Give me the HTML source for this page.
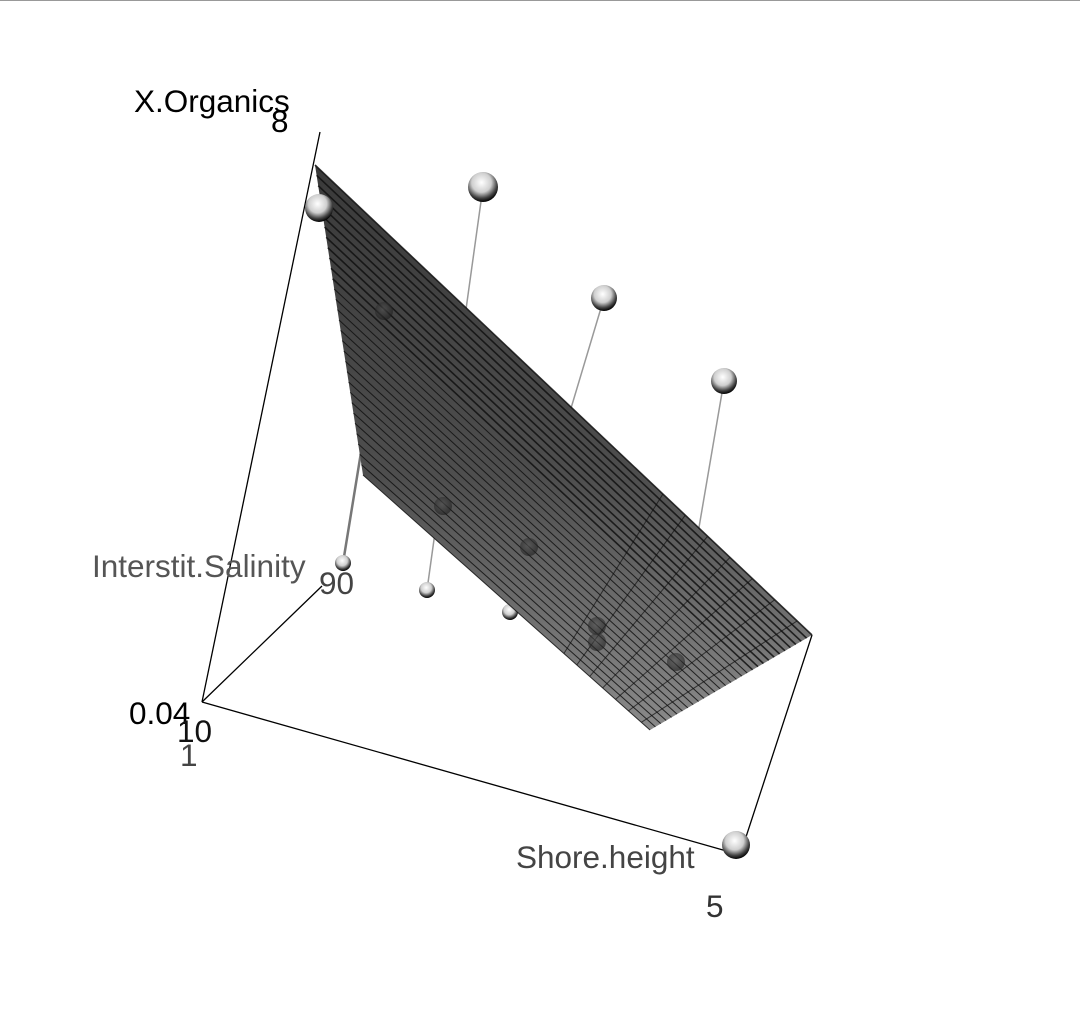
<!DOCTYPE html>
<html><head><meta charset="utf-8"><style>
html,body{margin:0;padding:0;background:#fff;}
svg{display:block;font-family:"Liberation Sans",sans-serif;}
</style></head><body>
<svg id="c" width="1080" height="1025" viewBox="0 0 1080 1025">
<defs>
<radialGradient id="sw" cx="0.45" cy="0.35" r="0.65">
<stop offset="0" stop-color="#ffffff"/><stop offset="0.5" stop-color="#cfcfcf"/><stop offset="0.8" stop-color="#444"/><stop offset="1" stop-color="#000"/></radialGradient>
<radialGradient id="sd" cx="0.45" cy="0.4" r="0.6">
<stop offset="0" stop-color="#555"/><stop offset="1" stop-color="#1a1a1a"/></radialGradient>
<linearGradient id="pg" x1="0" y1="0" x2="0" y2="1" gradientUnits="objectBoundingBox">
<stop offset="0" stop-color="#3a3a3a"/><stop offset="0.55" stop-color="#4e4e4e"/><stop offset="1" stop-color="#8a8a8a"/></linearGradient>
</defs>
<line x1="0" y1="0.5" x2="1080" y2="0.5" stroke="#999"/>
<g stroke="#000" stroke-width="1.3" fill="none">
<line x1="320" y1="132" x2="202" y2="702"/>
<line x1="202" y1="702" x2="322" y2="586"/>
<line x1="202" y1="702" x2="730" y2="852"/>
<line x1="812" y1="635" x2="745" y2="840"/>
</g>
<g id="below"></g>
<g id="plane"></g>
<g id="above"></g>
<g font-size="31.5">
<text x="134" y="112" fill="#000">X.Organics</text>
<text x="271" y="132" fill="#000">8</text>
<text x="92" y="577" fill="#555">Interstit.Salinity</text>
<text x="319" y="594" fill="#444">90</text>
<text x="129" y="724" fill="#000">0.04</text>
<text x="177" y="742" fill="#111">10</text>
<text x="180" y="766" fill="#444">1</text>
<text x="516" y="868" fill="#444">Shore.height</text>
<text x="706" y="917" fill="#333">5</text>
</g>
</svg>
<script>
// screen-projected point data (from rgl view)
const aboveX=[319,483,604,724,736];
const aboveY=[208,187,298,381,845];
const aboveR=[14,15,13,13,14];
const stemEndX=[319,427,510,676,736];
const stemEndY=[208,590,612,662,845];
const belowX=[343,427,510];
const belowY=[563,590,612];
const hiddenX=[384,443,529,597,597,676];
const hiddenY=[311,506,547,626,642,662];
const NS="http://www.w3.org/2000/svg";
function mk(t,a,p){const e=document.createElementNS(NS,t);for(const k in a)e.setAttribute(k,a[k]);p.appendChild(e);return e;}
const below=document.getElementById('below'),plane=document.getElementById('plane'),above=document.getElementById('above');
mk('line',{x1:384,y1:311,x2:343,y2:563,stroke:'#777','stroke-width':2.5},below);
for(let i=1;i<4;i++){
 const l=mk('line',{x1:aboveX[i],y1:aboveY[i],x2:stemEndX[i],y2:stemEndY[i],stroke:'#999','stroke-width':1.5},below);
 
 
}
for(let i=0;i<belowX.length;i++){
 const c=mk('circle',{cx:belowX[i],cy:belowY[i],r:8,fill:'url(#sw)'},below);
 
 
}
const P=[[315,165],[812,635],[650,730],[363,475]];
mk('polygon',{points:"315,165 812,635 650,730 363,475",fill:'url(#pg)'},plane);
const n=30;
for(let i=0;i<=n;i++){
 const t=i/n;
 const ax=P[0][0]+(P[3][0]-P[0][0])*t, ay=P[0][1]+(P[3][1]-P[0][1])*t;
 const bx=P[1][0]+(P[2][0]-P[1][0])*t, by=P[1][1]+(P[2][1]-P[1][1])*t;
 const l=mk('line',{x1:ax,y1:ay,x2:bx,y2:by,stroke:'#111','stroke-width':i<12?1.6:1,'stroke-opacity':0.85},plane);
 
}
for(let j=0;j<7;j++){
 const t=0.7+j*0.045;
 const ax=P[0][0]+(P[1][0]-P[0][0])*t, ay=P[0][1]+(P[1][1]-P[0][1])*t;
 const bx=P[3][0]+(P[2][0]-P[3][0])*t, by=P[3][1]+(P[2][1]-P[3][1])*t;
 const l=mk('line',{x1:ax,y1:ay,x2:bx,y2:by,stroke:'#111','stroke-width':1,'stroke-opacity':0.7},plane);
 
}
for(let i=0;i<hiddenX.length;i++){
 const c=mk('circle',{cx:hiddenX[i],cy:hiddenY[i],r:9,fill:'url(#sd)','fill-opacity':0.6},plane);
 
 
}
for(let i=0;i<aboveX.length;i++){
 const c=mk('circle',{cx:aboveX[i],cy:aboveY[i],r:aboveR[i],fill:'url(#sw)'},above);
 
 
}
</script>
</body></html>
